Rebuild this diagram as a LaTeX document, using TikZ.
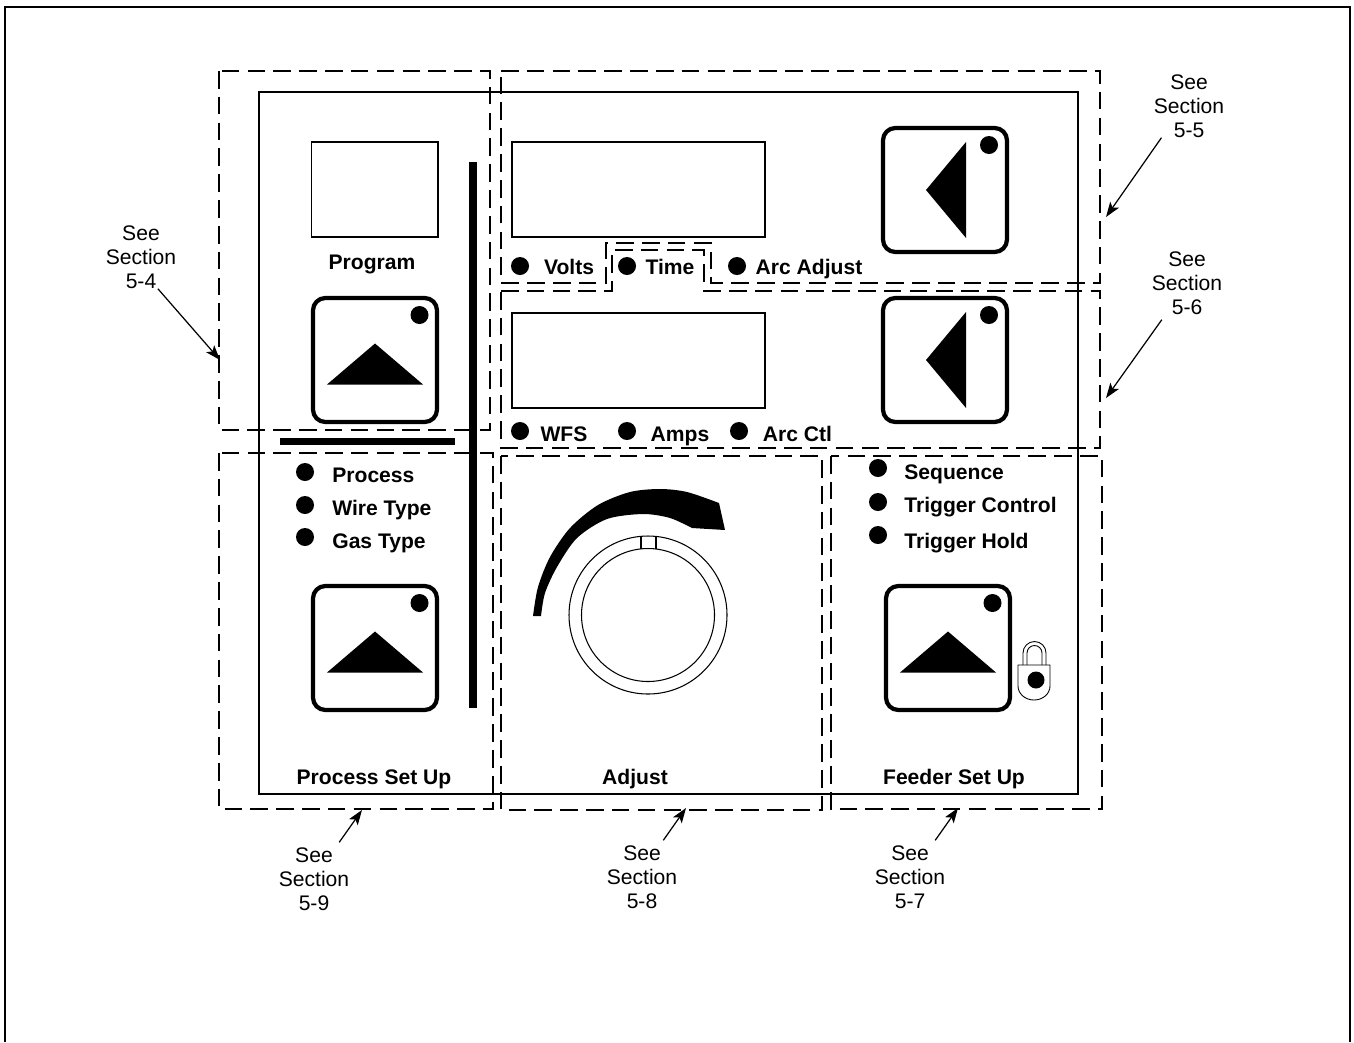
\documentclass[tikz,border=0pt]{standalone}
\usepackage{fontspec}
\setmainfont{Liberation Sans}
\usetikzlibrary{arrows.meta}

\tikzset{
	thinline/.style={line width=0.6pt},
	zone/.style={line width=0.6pt, dash pattern=on 10pt off 4.7pt},
	knob/.style={draw, line width=2.4pt, rounded corners=7pt, minimum size=2.48cm, inner sep=0pt},
	led/.style={circle, fill=black, minimum size=0.36cm, inner sep=0pt},
	tag/.style={font=\fontsize{12}{13.6}\bfseries\selectfont, inner sep=0pt},
	see/.style={font=\fontsize{12}{13.6}\selectfont, align=center, inner sep=0pt},
	seearrow/.style={line width=0.7pt, -{Stealth[length=8.5pt,width=6pt,inset=2pt]}}
}

\begin{document}
\begin{tikzpicture}[x=0.02cm, y=-0.02cm]
	\useasboundingbox (0,0) rectangle (1354,1042);

	% Outer frame, open at the bottom
	\draw[thinline] (5,1042) -- (5,7) -- (1350,7) -- (1350,1042);

	% Panel and displays
	\draw[thinline] (259,92) rectangle (1078,794);
	\draw[thinline] (311.5,142) rectangle (438,237);
	\draw[thinline] (512,142) rectangle (765,237);
	\draw[thinline] (512,313) rectangle (765,408);

	% Thick bars
	\fill (469,162) rectangle (477,708);
	\fill (280,437.5) rectangle (455,444.5);

	% Dashed zones
	\draw[zone] (219,71) rectangle (490,430);
	\draw[zone] (219,453) rectangle (493,809);
	\draw[zone] (501,71) -- (1100,71) -- (1100,283) -- (711,283) -- (711,243) -- (606,243) -- (606,283) -- (501,283) -- cycle;
	\draw[zone] (501,291) -- (612,291) -- (612,250) -- (704,250) -- (704,291) -- (1100,291) -- (1100,448) -- (501,448) -- cycle;
	\draw[zone] (501,456) rectangle (822,810);
	\draw[zone] (831,456) rectangle (1102,809);

	% Buttons with the triangle pointing up
	\foreach \name/\x/\y in {prog/375/360, proc/375/648, feed/948/648} {
		\node[knob] (btn\name) at (\x,\y) {};
		\node[led] (btnled\name) at (\x+44.5,\y-45) {};
		\fill (\x,\y-16.5) -- (\x+48,\y+24.5) -- (\x-48,\y+24.5) -- cycle;
	}

	% Buttons with the triangle pointing left
	\foreach \name/\y in {arc/190, wfs/360} {
		\node[knob] (btn\name) at (945,\y) {};
		\node[led] (btnled\name) at (989,\y-45) {};
		\fill (926,\y) -- (966,\y-48) -- (966,\y+48) -- cycle;
	}

	% Indicators
	\foreach \name/\x/\y in {volts/520/266, time/627/266, arcadj/737/266, wfs/520/431, amps/627/431, arcctl/739/431,
		process/305/472, wire/305/505, gas/305/537, seq/878/468, trig/878/502, hold/878/535} {
		\node[led] (led\name) at (\x,\y) {};
	}

	% Labels
	\node[tag] (program) at (372,264) {Program};
	\node[tag] (volts) at (569,267) {Volts};
	\node[tag] (time) at (670,267) {Time};
	\node[tag] (arcadj) at (809,269) {Arc Adjust};
	\node[tag] (wfs) at (564,434) {WFS};
	\node[tag] (amps) at (680,436) {Amps};
	\node[tag] (arcctl) at (797.5,434) {Arc Ctl};
	\node[tag, anchor=west] (process) at (332,475) {Process};
	\node[tag, anchor=west] (wire) at (332,510) {Wire Type};
	\node[tag, anchor=west] (gas) at (332,543) {Gas Type};
	\node[tag, anchor=west] (seq) at (904,474) {Sequence};
	\node[tag, anchor=west] (trig) at (904,507) {Trigger Control};
	\node[tag, anchor=west] (hold) at (904,543) {Trigger Hold};
	\node[tag] (procsetup) at (374,779) {Process Set Up};
	\node[tag] (adjust) at (635,779) {Adjust};
	\node[tag] (feedsetup) at (954,779) {Feeder Set Up};

	% Dial and its swoosh
	\draw[thinline] (648,615) circle (79);
	\draw[thinline] (648,615) circle (66.5);
	\draw[thinline] (641,536) -- (641,549);
	\draw[thinline] (656,536) -- (656,549);
	\fill plot[smooth] coordinates {(533,616) (538,587) (550,557) (570,528) (598,505) (630,492) (660,489) (687,492) (719,503)}
		-- (725,530) -- (692,528)
		-- plot[smooth] coordinates {(692,528) (670,518) (643,514) (607,519) (577,538) (557,567) (545,593) (541,616)} -- cycle;

	% Padlock
	\draw[line width=0.5pt] (1018,665) -- (1050,665) -- (1050,686) arc (0:180:16 and 14) -- cycle;
	\draw[line width=0.5pt] (1023,665) -- (1023,653) arc (180:360:11.5) -- (1046,665);
	\draw[line width=0.5pt] (1027,665) -- (1027,653) arc (180:360:7.5) -- (1042,665);
	\node[led, minimum size=0.34cm] (lockled) at (1036,680) {};

	% See section notes
	\node[see] (sec54) at (141,257) {See\\Section\\5-4};
	\node[see] (sec55) at (1189,106) {See\\Section\\5-5};
	\node[see] (sec56) at (1187,283) {See\\Section\\5-6};
	\node[see] (sec59) at (314,879) {See\\Section\\5-9};
	\node[see] (sec58) at (642,877) {See\\Section\\5-8};
	\node[see] (sec57) at (910,877) {See\\Section\\5-7};

	\coordinate (tip54) at (220,360);
	\coordinate (tip55) at (1106,217);
	\coordinate (tip56) at (1106,398);
	\coordinate (tip59) at (362,810);
	\coordinate (tip58) at (686,808);
	\coordinate (tip57) at (958,808);

	\draw[seearrow] (sec54.-62) -- (tip54);
	\draw[seearrow] (sec55.-131) -- (tip55);
	\draw[seearrow] ([shift={(-3,5)}]sec56.-125) -- (tip56);
	\draw[seearrow] ([shift={(3,-5)}]sec59.55) -- (tip59);
	\draw[seearrow] ([shift={(3,-5)}]sec58.60) -- (tip58);
	\draw[seearrow] ([shift={(3,-5)}]sec57.55) -- (tip57);
\end{tikzpicture}
\end{document}
